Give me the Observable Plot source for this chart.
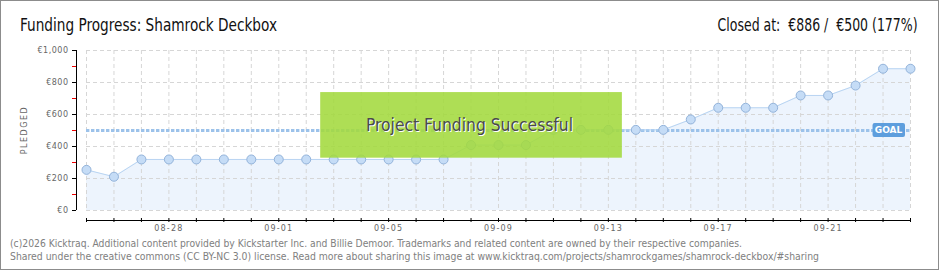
<!DOCTYPE html>
<html><head><meta charset="utf-8">
<script src="https://cdn.jsdelivr.net/npm/d3@7"></script>
<script src="https://cdn.jsdelivr.net/npm/@observablehq/plot@0.6"></script>
<style>
body{margin:0;background:#fff}
#wrap{position:relative;width:940px;height:270px;overflow:hidden;background:#fff}
#border{position:absolute;left:0;top:0;width:939px;height:270px;border:1px solid #8c8c8c;box-sizing:border-box;pointer-events:none}
.t{position:absolute;white-space:nowrap;line-height:1}
#title{left:20px;top:15px;font:17px "DejaVu Sans Condensed",sans-serif;color:#111;transform-origin:left center}
#closed{right:22px;top:15px;font:17px "DejaVu Sans Condensed",sans-serif;color:#111;transform-origin:right center}
.foot{left:10px;font:10px "DejaVu Sans Condensed","DejaVu Sans",sans-serif;color:#808080;transform-origin:left center}
#f1{top:238px}
#f2{top:251px}
#pledged{left:24px;top:130px;font:8px "DejaVu Sans",sans-serif;color:#666;letter-spacing:1.5px;transform:translate(-50%,-50%) rotate(-90deg)}
g[aria-label="x-axis tick label"] text{letter-spacing:1.2px}
g[aria-label="y-axis tick label"] text{letter-spacing:0.5px}
</style></head>
<body>
<div id="wrap">
  <div id="chart"></div>
  <div class="t" id="title" data-w="257">Funding Progress: Shamrock Deckbox</div>
  <div class="t" id="closed" data-w="200">Closed at:&nbsp; €886 / &nbsp;€500 (177%)</div>
  <div class="t" id="pledged">PLEDGED</div>
  <div class="t foot" id="f1" data-w="732">(c)2026 Kicktraq. Additional content provided by Kickstarter Inc. and Billie Demoor. Trademarks and related content are owned by their respective companies.</div>
  <div class="t foot" id="f2" data-w="809">Shared under the creative commons (CC BY-NC 3.0) license. Read more about sharing this image at www.kicktraq.com/projects/shamrockgames/shamrock-deckbox/#sharing</div>
  <div id="border"></div>
</div>
<script>
const dates = [
  "2025-08-25","2025-08-26","2025-08-27","2025-08-28","2025-08-29","2025-08-30","2025-08-31",
  "2025-09-01","2025-09-02","2025-09-03","2025-09-04","2025-09-05","2025-09-06","2025-09-07",
  "2025-09-08","2025-09-09","2025-09-10","2025-09-11","2025-09-12","2025-09-13","2025-09-14",
  "2025-09-15","2025-09-16","2025-09-17","2025-09-18","2025-09-19","2025-09-20","2025-09-21",
  "2025-09-22","2025-09-23","2025-09-24"
];
const pledged = [
  254, 211, 319, 319, 319, 319, 319,
  319, 319, 319, 319, 319, 319, 319,
  409, 409, 409, 504, 504, 504, 504,
  504, 569, 642, 642, 642, 719, 719,
  781, 886, 886
];
const goal = 500;
const yTicks = [0, 200, 400, 600, 800, 1000];
const yMinorTicks = [100, 300, 500, 700, 900];
const xLabelDates = ["2025-08-28","2025-09-01","2025-09-05","2025-09-09","2025-09-13","2025-09-17","2025-09-21"];
const bannerText = "Project Funding Successful";
const goalText = "GOAL";

const parse = s => new Date(s + "T00:00:00Z");
const D = dates.map(parse);
const data = D.map((d, i) => ({date: d, value: pledged[i]}));
const last = D[D.length - 1], first = D[0];

const chart = Plot.plot({
  width: 940, height: 270,
  marginLeft: 86, marginRight: 30, marginTop: 50, marginBottom: 60,
  x: {type: "utc", domain: [first, last]},
  y: {domain: [0, 1000]},
  style: {fontFamily: "DejaVu Sans", fontSize: "8px", background: "transparent", color: "#666", overflow: "visible"},
  marks: [
    Plot.areaY(data, {x: "date", y: "value", fill: "#edf4fd"}),
    Plot.gridX(D, {stroke: "#d6d6d6", strokeOpacity: 1, strokeDasharray: "4,3"}),
    Plot.gridY(yTicks, {stroke: "#d6d6d6", strokeOpacity: 1, strokeDasharray: "4,3"}),
    Plot.ruleY([goal], {stroke: "#9cc2ea", strokeWidth: 3, strokeDasharray: "3.4,1.6"}),
    Plot.lineY(data, {x: "date", y: "value", stroke: "#b8d4f2", strokeWidth: 1}),
    Plot.dot(data, {x: "date", y: "value", r: 4.5, fill: "#c5dcf6", stroke: "#93b3da", strokeWidth: 1}),
    // goal label
    Plot.rect([goalText], {x1: D[D.length - 2], x2: last, insetLeft: -10, insetRight: 5, y1: 456, y2: 544, rx: 2, fill: "#5e9edd"}),
    Plot.text([goalText], {frameAnchor: "right", textAnchor: "middle", y: goal, dx: -22, fill: "white", fontSize: 9, fontWeight: "bold"}),
    // success banner
    Plot.rect([bannerText], {x1: D[9], x2: D[19], insetLeft: -13, insetRight: -14, y1: 327, y2: 737, fill: "#a3da3e", fillOpacity: 0.88}),
    Plot.text([bannerText], {frameAnchor: "middle", dx: -28, dy: -4, fill: "white", fontSize: 18, fontFamily: "DejaVu Sans Condensed"}),
    Plot.text([bannerText], {frameAnchor: "middle", dx: -29, dy: -5, fill: "#4a4a4a", fontSize: 18, fontFamily: "DejaVu Sans Condensed"}),
    // y axis
    Plot.ruleX([first], {dx: -10, y1: 0, y2: 1000, stroke: "#000"}),
    Plot.axisY(yMinorTicks, {anchor: "left", tickSize: 4, dx: -10, stroke: "#e00", tickFormat: () => "", label: null}),
    Plot.axisY(yTicks, {anchor: "left", tickSize: 4, tickPadding: 4, dx: -10, stroke: "#000", color: "#666", fontSize: 8,
      tickFormat: d => "€" + d3.format(",")(d), label: null}),
    // x axis
    Plot.ruleY([0], {dy: 10, stroke: "#000"}),
    Plot.axisX(D, {anchor: "bottom", tickSize: 4, dy: 8, stroke: "#000", tickFormat: () => "", label: null}),
    Plot.axisX(xLabelDates.map(parse), {anchor: "bottom", tickSize: 0, tickPadding: 15, color: "#666", fontSize: 8,
      tickFormat: d3.utcFormat("%m-%d"), label: null})
  ]
});
document.getElementById("chart").appendChild(chart);

// fit text widths to the reference
document.querySelectorAll("[data-w]").forEach(el => {
  const w = el.getBoundingClientRect().width;
  el.style.transform = `scaleX(${(+el.dataset.w) / w})`;
});
// banner text width
d3.select(chart).selectAll("text").filter(function() { return this.textContent === bannerText; })
  .attr("textLength", 207).attr("lengthAdjust", "spacingAndGlyphs");
</script>
</body></html>
